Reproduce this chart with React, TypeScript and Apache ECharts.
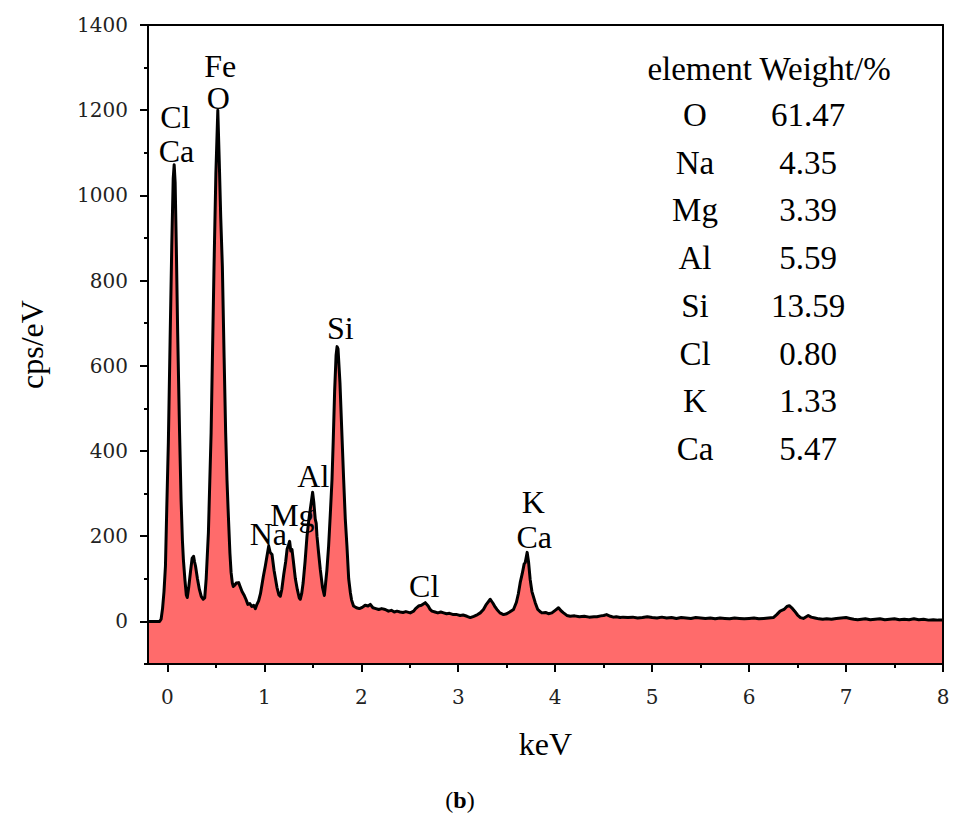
import React, { useEffect, useRef } from "react";
import * as echarts from "echarts";

// Spectrum [keV, cps/eV]
const spectrum: [number, number][] = [
  [-0.2, 0], [-0.08, 0], [-0.065, 5], [-0.05, 30], [-0.035, 70], [-0.02, 130], [-0.007, 260], [0.01, 420],
  [0.028, 660], [0.045, 880], [0.06, 1040], [0.07, 1072], [0.08, 1030], [0.092, 880], [0.106, 678],
  [0.125, 450], [0.141, 286], [0.155, 190], [0.165, 145], [0.18, 100], [0.195, 62], [0.205, 56],
  [0.22, 80], [0.24, 120], [0.255, 148], [0.27, 153], [0.28, 140], [0.29, 130], [0.31, 100], [0.33, 75],
  [0.35, 58], [0.37, 52], [0.385, 55], [0.4, 100], [0.423, 208], [0.451, 443], [0.481, 833], [0.5, 1050],
  [0.52, 1200], [0.535, 1080], [0.55, 950], [0.567, 833], [0.585, 620], [0.601, 443], [0.615, 330],
  [0.629, 247], [0.645, 160], [0.657, 115], [0.67, 90], [0.68, 82], [0.695, 85], [0.71, 90], [0.735, 91],
  [0.75, 82], [0.77, 70], [0.79, 62], [0.81, 52], [0.83, 40], [0.85, 42], [0.87, 35], [0.89, 38],
  [0.907, 30], [0.92, 38], [0.941, 48], [0.96, 65], [0.99, 106], [1.01, 130], [1.027, 153], [1.045, 177],
  [1.06, 162], [1.079, 157], [1.1, 120], [1.13, 80], [1.15, 62], [1.165, 59], [1.18, 75], [1.2, 110],
  [1.22, 140], [1.235, 170], [1.25, 180], [1.261, 188], [1.273, 165], [1.285, 169], [1.3, 140], [1.32, 100],
  [1.34, 75], [1.36, 55], [1.371, 52], [1.385, 65], [1.4, 90], [1.42, 140], [1.44, 200], [1.46, 240],
  [1.475, 265], [1.49, 290], [1.498, 303], [1.51, 280], [1.525, 240], [1.535, 230], [1.543, 200],
  [1.56, 160], [1.577, 122], [1.6, 80], [1.619, 61], [1.629, 83], [1.645, 120], [1.663, 177], [1.68, 250],
  [1.698, 333], [1.71, 420], [1.725, 540], [1.74, 625], [1.75, 645], [1.76, 640], [1.78, 560], [1.8, 440],
  [1.818, 333], [1.835, 240], [1.852, 177], [1.87, 100], [1.887, 68], [1.9, 50], [1.92, 36], [1.95, 32],
  [1.98, 30], [2.01, 33], [2.04, 38], [2.07, 36], [2.093, 40], [2.12, 32], [2.15, 30], [2.18, 28],
  [2.21, 30], [2.247, 28], [2.28, 24], [2.31, 26], [2.34, 22], [2.368, 24], [2.4, 22], [2.43, 21],
  [2.46, 23], [2.505, 20], [2.54, 24], [2.56, 30], [2.59, 36], [2.62, 38], [2.66, 44], [2.69, 36],
  [2.71, 28], [2.729, 24], [2.76, 22], [2.79, 20], [2.82, 22], [2.849, 20], [2.88, 18], [2.91, 19],
  [2.95, 16], [2.987, 16], [3.02, 14], [3.05, 15], [3.09, 12], [3.124, 9], [3.16, 12], [3.2, 16],
  [3.227, 20], [3.26, 28], [3.29, 40], [3.33, 52], [3.36, 42], [3.38, 34], [3.399, 28], [3.43, 20],
  [3.467, 16], [3.5, 18], [3.53, 22], [3.57, 28], [3.6, 45], [3.62, 65], [3.639, 91], [3.66, 112],
  [3.68, 135], [3.691, 138], [3.711, 162], [3.725, 140], [3.742, 98], [3.76, 70], [3.794, 44], [3.82, 28],
  [3.85, 22], [3.863, 20], [3.9, 21], [3.93, 18], [3.966, 20], [4.0, 26], [4.034, 32], [4.06, 25],
  [4.086, 20], [4.12, 14], [4.155, 12], [4.2, 13], [4.25, 11], [4.3, 12], [4.35, 10], [4.4, 11],
  [4.43, 11], [4.47, 13], [4.5, 14], [4.53, 16], [4.57, 12], [4.6, 10], [4.63, 11], [4.67, 9], [4.7, 10],
  [4.75, 9], [4.8, 10], [4.85, 8], [4.9, 9], [4.95, 11], [5.0, 9], [5.05, 8], [5.1, 10], [5.15, 8],
  [5.2, 9], [5.25, 7], [5.3, 9], [5.35, 8], [5.4, 7], [5.45, 9], [5.5, 8], [5.55, 7], [5.6, 8], [5.65, 6],
  [5.7, 8], [5.75, 7], [5.8, 6], [5.85, 8], [5.9, 7], [5.95, 6], [6.0, 7], [6.05, 8], [6.1, 6], [6.15, 7],
  [6.2, 8], [6.25, 9], [6.285, 16], [6.32, 24], [6.36, 28], [6.39, 35], [6.415, 37], [6.44, 32],
  [6.47, 24], [6.5, 15], [6.53, 9], [6.56, 7], [6.61, 14], [6.64, 10], [6.68, 8], [6.72, 6], [6.76, 5],
  [6.8, 6], [6.85, 5], [6.9, 7], [6.95, 8], [7.0, 9], [7.04, 7], [7.08, 5], [7.12, 4], [7.16, 5], [7.2, 6],
  [7.25, 4], [7.3, 5], [7.35, 6], [7.4, 4], [7.45, 5], [7.5, 6], [7.55, 4], [7.6, 5], [7.65, 4], [7.7, 6],
  [7.75, 4], [7.8, 5], [7.85, 3], [7.9, 4], [7.95, 3], [8.0, 3],
];

// Peak annotations [keV, cps/eV, label]
const peakLabels: [number, number, string][] = [
  [0.546, 1304, "Fe"], [0.526, 1229, "O"], [0.082, 1184, "Cl"], [0.093, 1104, "Ca"],
  [1.784, 689, "Si"], [1.505, 342, "Al"], [1.289, 249, "Mg"], [1.041, 206, "Na"],
  [2.649, 84, "Cl"], [3.773, 281, "K"], [3.784, 198, "Ca"],
];

// Composition table
const tableElements = ["O", "Na", "Mg", "Al", "Si", "Cl", "K", "Ca"];
const tableWeights = ["61.47", "4.35", "3.39", "5.59", "13.59", "0.80", "1.33", "5.47"];

// Axis ranges / tick steps
const X_MIN = -0.2, X_MAX = 8, X_STEP = 1;
const Y_MIN = -100, Y_MAX = 1400, Y_STEP = 200;

const SERIF = "'Liberation Serif', 'Times New Roman', serif";
const TICKFONT = "'DejaVu Serif', serif";

export default function App() {
  const ref = useRef<HTMLDivElement>(null);
  useEffect(() => {
    document.body.style.margin = "0";
    const chart = echarts.init(ref.current!, null, { renderer: "svg" });

    const W = 953, H = 816;
    const G = { left: 148, right: 10, top: 25, bottom: 152 };
    const plotW = W - G.left - G.right;
    const plotH = H - G.top - G.bottom;
    const pxPerX = plotW / (X_MAX - X_MIN);
    const pxPerY = plotH / (Y_MAX - Y_MIN);

    const blackLine = { color: "#000", width: 2 };
    const hiddenAxis = {
      show: true, axisLine: { show: false }, axisTick: { show: false }, axisLabel: { show: false },
      splitLine: { show: false },
    };

    const tableGraphics: any[] = [
      {
        type: "text", x: 769, y: 69,
        style: { text: "element Weight/%", font: `33px ${SERIF}`, fill: "#000", textAlign: "center", textVerticalAlign: "middle" },
      },
    ];
    tableElements.forEach((el, i) => {
      const y = 115 + i * 47.7;
      tableGraphics.push({
        type: "text", x: 695, y,
        style: { text: el, font: `33px ${SERIF}`, fill: "#000", textAlign: "center", textVerticalAlign: "middle" },
      });
      tableGraphics.push({
        type: "text", x: 808, y,
        style: { text: tableWeights[i], font: `33px ${SERIF}`, fill: "#000", textAlign: "center", textVerticalAlign: "middle" },
      });
    });
    tableGraphics.push({
      type: "text", x: 460, y: 800,
      style: {
        text: "({b|b})", font: `24px ${SERIF}`, fill: "#000", textAlign: "center", textVerticalAlign: "middle",
        rich: { b: { fontWeight: "bold", fontSize: 24, fontFamily: SERIF, fill: "#000" } },
      },
    });

    chart.setOption({
      animation: false,
      backgroundColor: "#fff",
      grid: [
        { left: G.left, right: G.right, top: G.top, bottom: G.bottom },
        { left: G.left + (0 - X_MIN) * pxPerX, right: G.right, top: G.top, bottom: G.bottom },
        { left: G.left, right: G.right, top: G.top, bottom: G.bottom + (0 - Y_MIN) * pxPerY },
      ],
      xAxis: [
        {
          gridIndex: 0, type: "value", min: X_MIN, max: X_MAX, z: 10, position: "bottom",
          name: "keV", nameLocation: "middle", nameGap: 64,
          nameTextStyle: { fontFamily: SERIF, fontSize: 32, color: "#000" },
          axisLine: { show: true, onZero: false, lineStyle: blackLine },
          axisTick: { show: false }, axisLabel: { show: false }, splitLine: { show: false },
        },
        {
          gridIndex: 0, type: "value", min: X_MIN, max: X_MAX, z: 10, position: "top",
          axisLine: { show: true, onZero: false, lineStyle: blackLine },
          axisTick: { show: false }, axisLabel: { show: false }, splitLine: { show: false },
        },
        {
          gridIndex: 1, type: "value", min: 0, max: X_MAX, interval: X_STEP, z: 10, position: "bottom",
          axisLine: { show: false, onZero: false },
          axisTick: { show: true, length: 8, lineStyle: blackLine },
          minorTick: { show: true, splitNumber: 2, length: 4, lineStyle: blackLine },
          axisLabel: { show: true, margin: 23, fontFamily: TICKFONT, fontSize: 20, color: "#222", formatter: (v: number) => String(v) },
          splitLine: { show: false },
        },
        { gridIndex: 2, type: "value", min: X_MIN, max: X_MAX, ...hiddenAxis },
      ],
      yAxis: [
        {
          gridIndex: 0, type: "value", min: Y_MIN, max: Y_MAX, interval: Y_STEP, z: 10, position: "left",
          name: "cps/eV", nameLocation: "middle", nameGap: 100,
          nameTextStyle: { fontFamily: SERIF, fontSize: 32, color: "#000" },
          axisLine: { show: true, onZero: false, lineStyle: blackLine },
          axisTick: { show: true, length: 4, lineStyle: blackLine },
          axisLabel: { show: false }, splitLine: { show: false },
        },
        {
          gridIndex: 0, type: "value", min: Y_MIN, max: Y_MAX, z: 10, position: "right",
          axisLine: { show: true, onZero: false, lineStyle: blackLine },
          axisTick: { show: false }, axisLabel: { show: false }, splitLine: { show: false },
        },
        { gridIndex: 1, type: "value", min: Y_MIN, max: Y_MAX, ...hiddenAxis },
        {
          gridIndex: 2, type: "value", min: 0, max: Y_MAX, interval: Y_STEP, z: 10, position: "left",
          axisLine: { show: false, onZero: false },
          axisTick: { show: true, length: 8, lineStyle: blackLine },
          axisLabel: { show: true, margin: 20, fontFamily: TICKFONT, fontSize: 20, color: "#222", formatter: (v: number) => String(v) },
          splitLine: { show: false },
        },
      ],
      series: [
        {
          type: "line", xAxisIndex: 0, yAxisIndex: 0, z: 2,
          data: spectrum, showSymbol: false, smooth: false,
          lineStyle: { color: "#000", width: 3, join: "round" },
          areaStyle: { color: "#FF6B6B", opacity: 1, origin: "start" },
        },
        {
          type: "scatter", xAxisIndex: 0, yAxisIndex: 0, z: 5,
          symbolSize: 0, silent: true,
          itemStyle: { opacity: 1, color: "#000" },
          data: peakLabels.map((p) => ({ value: [p[0], p[1]], name: p[2] })),
          label: {
            show: true, position: [0, 0], align: "center", verticalAlign: "middle", formatter: "{b}",
            fontFamily: SERIF, fontSize: 32, lineHeight: 28, color: "#000", opacity: 1,
            textBorderWidth: 0, textShadowBlur: 0,
          },
        },
      ],
      graphic: tableGraphics,
    });
    return () => chart.dispose();
  }, []);
  return <div ref={ref} style={{ width: 953, height: 816 }} />;
}
